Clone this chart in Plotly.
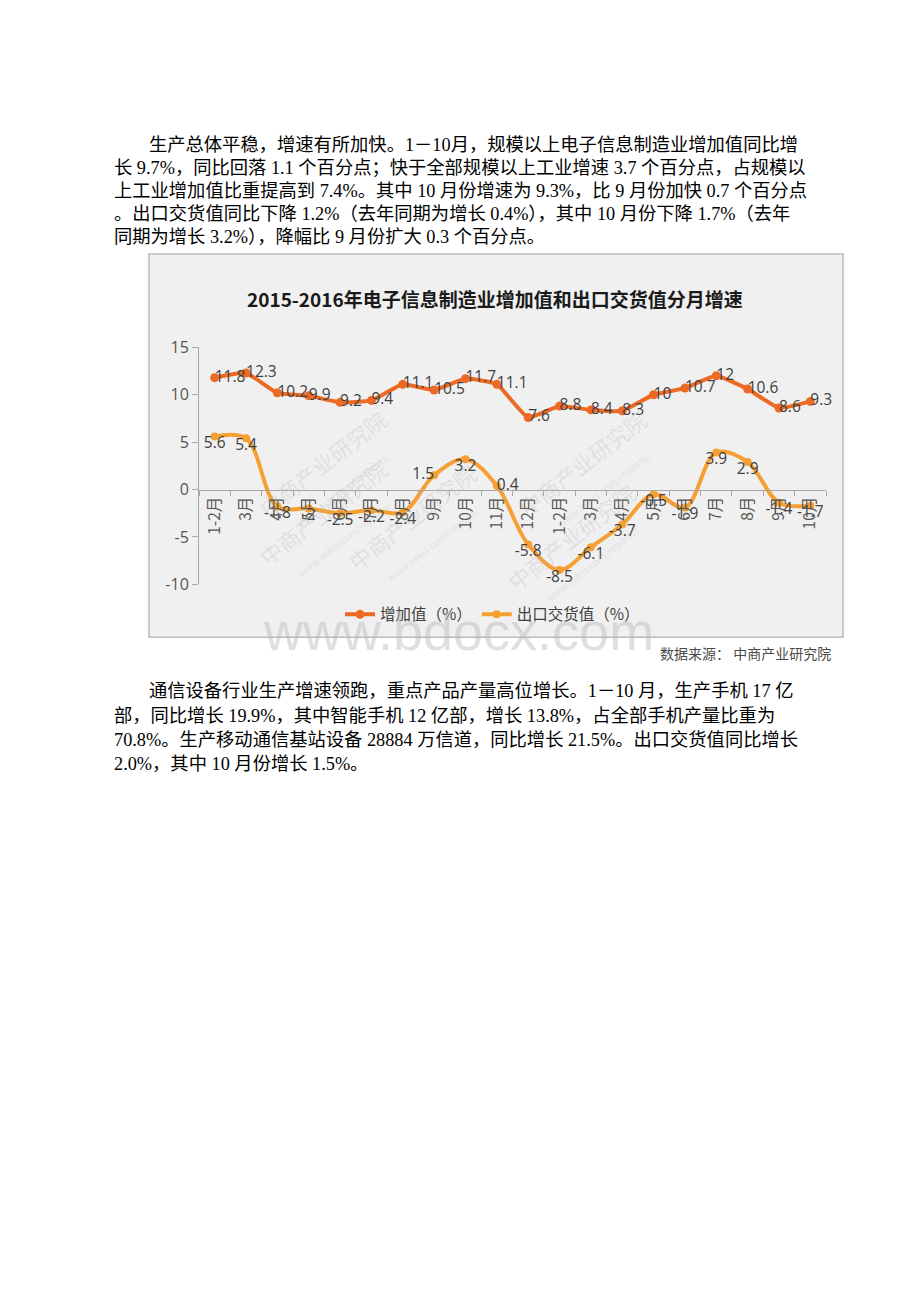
"""Document page with the monthly growth chart of the electronics manufacturing sector."""

import plotly.graph_objects as go

W, H = 920, 1302
BODY = 8  # default page margin of the html body

# chart data
months = ["1-2月", "3月", "4月", "5月", "6月", "7月", "8月", "9月", "10月", "11月", "12月",
          "1-2月", "3月", "4月", "5月", "6月", "7月", "8月", "9月", "10月"]
value_added = [11.8, 12.3, 10.2, 9.9, 9.2, 9.4, 11.1, 10.5, 11.7, 11.1, 7.6,
               8.8, 8.4, 8.3, 10, 10.7, 12, 10.6, 8.6, 9.3]
export_value = [5.6, 5.4, -1.8, -2, -2.5, -2.2, -2.4, 1.5, 3.2, 0.4, -5.8,
                -8.5, -6.1, -3.7, -0.5, -1.9, 3.9, 2.9, -1.4, -1.7]
y_ticks = [15, 10, 5, 0, -5, -10]

title = "2015-2016年电子信息制造业增加值和出口交货值分月增速"
source = "数据来源： 中商产业研究院"

para1 = [
    "生产总体平稳，增速有所加快。1－10月，规模以上电子信息制造业增加值同比增",
    "长 9.7%，同比回落 1.1 个百分点；快于全部规模以上工业增速 3.7 个百分点，占规模以",
    "上工业增加值比重提高到 7.4%。其中 10 月份增速为 9.3%，比 9 月份加快 0.7 个百分点",
    "。出口交货值同比下降 1.2%（去年同期为增长 0.4%），其中 10 月份下降 1.7%（去年",
    "同期为增长 3.2%），降幅比 9 月份扩大 0.3 个百分点。",
]
para2 = [
    "通信设备行业生产增速领跑，重点产品产量高位增长。1－10 月，生产手机 17 亿",
    "部，同比增长 19.9%，其中智能手机 12 亿部，增长 13.8%，占全部手机产量比重为",
    "70.8%。生产移动通信基站设备 28884 万信道，同比增长 21.5%。出口交货值同比增长",
    "2.0%，其中 10 月份增长 1.5%。",
]


def px(x):
    return (x - BODY) / W


def py(y):
    return 1 - (y - BODY) / H


idx = list(range(len(months)))
c_value = "#ED6A25"
c_export = "#F6A033"
label_font = dict(family="Open Sans, Noto Sans CJK SC", size=15.5, color="#404040")
cjk = "Noto Sans CJK SC"
text_font = "Liberation Serif, Noto Sans CJK SC"

fig = go.Figure()

fig.add_trace(go.Scatter(
    x=idx, y=value_added, mode="lines+markers", name="增加值（%）",
    line=dict(color=c_value, width=4, shape="spline", smoothing=0.4),
    marker=dict(size=9, color=c_value),
))
fig.add_trace(go.Scatter(
    x=idx, y=export_value, mode="lines+markers", name="出口交货值（%）",
    line=dict(color=c_export, width=4, shape="spline", smoothing=1.0),
    marker=dict(size=8, color=c_export),
))

# data labels
fig.add_trace(go.Scatter(
    x=idx, y=value_added, mode="text", showlegend=False, hoverinfo="skip",
    text=[f"{v:g}" for v in value_added], textposition="middle right",
    textfont=label_font, cliponaxis=False,
))
export_pos = ["bottom center"] * len(export_value)
export_pos[7] = "middle left"
export_pos[9] = "middle right"
fig.add_trace(go.Scatter(
    x=idx, y=export_value, mode="text", showlegend=False, hoverinfo="skip",
    text=[f"{v:g}" for v in export_value], textposition=export_pos,
    textfont=label_font, cliponaxis=False,
))

# chart frame
fig.add_shape(type="rect", xref="paper", yref="paper",
              x0=px(149), x1=px(843), y0=py(637), y1=py(247),
              fillcolor="#F0F0F0", line=dict(color="#BBBBBB", width=1.5), layer="below")

ann = []
ann.append(dict(text=f"<b>{title}</b>", x=px(495), y=py(277), xref="paper", yref="paper",
                showarrow=False, font=dict(family=cjk, size=19, color="#1A1A1A")))
ann.append(dict(text=source, x=px(833), y=py(653), xref="paper", yref="paper",
                xanchor="right", showarrow=False, font=dict(family=cjk, size=14, color="#4A4A4A")))

# faint site watermarks
for wx, wy in [(330, 395), (590, 395), (250, 520), (420, 525), (660, 545)]:
    ann.append(dict(text="中商产业研究院<br><span style='font-size:10px'>www.askci.com/reports/</span>",
                    x=px(wx), y=py(wy), xref="paper", yref="paper", showarrow=False,
                    textangle=-38, font=dict(family=cjk, size=22, color="rgba(175,175,175,0.25)")))
ann.append(dict(text="www.bdocx.com", x=px(458), y=py(631), xref="paper", yref="paper",
                showarrow=False, font=dict(family="Liberation Sans", size=54,
                                           color="rgba(185,185,185,0.45)")))

# paragraphs
for i, line in enumerate(para1):
    ann.append(dict(text=line, x=px(147 if i == 0 else 112), y=py(124 + i * 23.4),
                    xref="paper", yref="paper", xanchor="left", showarrow=False,
                    font=dict(family=text_font, size=18.3, color="#000000")))
for i, line in enumerate(para2):
    ann.append(dict(text=line, x=px(147 if i == 0 else 112), y=py(692 + i * 24.7),
                    xref="paper", yref="paper", xanchor="left", showarrow=False,
                    font=dict(family=text_font, size=18.3, color="#000000")))

y0_frac = py(583)
y1_frac = py(342)
zero_pos = y0_frac + (y1_frac - y0_frac) * (0 - (-10)) / 25

fig.update_layout(
    width=W, height=H, autosize=False,
    margin=dict(l=0, r=0, t=0, b=0),
    paper_bgcolor="white", plot_bgcolor="rgba(0,0,0,0)",
    annotations=ann,
    xaxis=dict(
        domain=[px(199), px(826)], range=[-0.5, 19.5],
        tickmode="array", tickvals=idx, ticktext=months, tickangle=-90,
        tickfont=dict(family=cjk, size=15.5, color="#555555"),
        ticks="", showgrid=False, zeroline=False,
        showline=True, linecolor="#A8A8A8", linewidth=1,
        anchor="free", position=zero_pos,
        minor=dict(tickmode="linear", tick0=-0.5, dtick=1, ticks="outside",
                   ticklen=5, tickcolor="#A8A8A8", showgrid=False),
    ),
    yaxis=dict(
        domain=[y0_frac, y1_frac], range=[-10, 15],
        tickmode="array", tickvals=y_ticks, ticktext=[str(t) for t in y_ticks],
        tickfont=dict(family="Open Sans", size=16, color="#555555"),
        ticks="outside", ticklen=6, tickcolor="#A8A8A8",
        showline=True, linecolor="#A8A8A8", linewidth=1,
        showgrid=False, zeroline=False,
    ),
    legend=dict(orientation="h", x=px(340), xanchor="left", y=py(614), yanchor="middle",
                bgcolor="rgba(0,0,0,0)", font=dict(family=cjk, size=15.5, color="#404040"),
                itemwidth=30, tracegroupgap=0),
)

fig.write_html("out.html")
